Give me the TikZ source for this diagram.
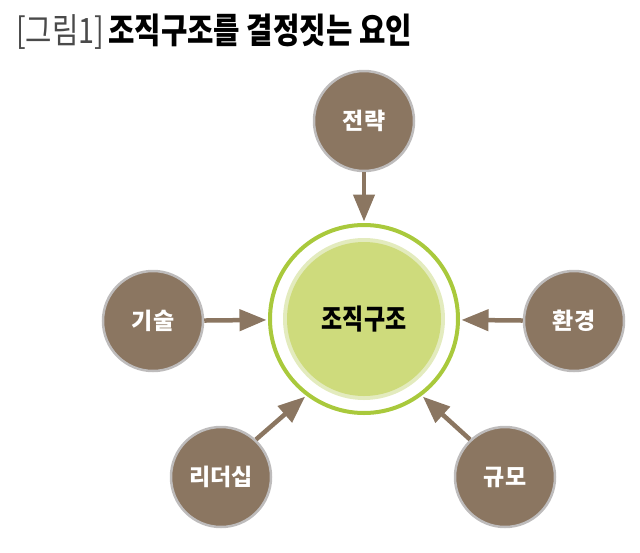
\documentclass[tikz,border=0pt]{standalone}
\usepackage{fontspec}
\newfontfamily\kr{Noto Sans CJK KR}
\newfontfamily\krc{Noto Sans CJK KR}[FakeStretch=0.82]
\usetikzlibrary{arrows.meta}
\definecolor{braun}{HTML}{8B7661}
\definecolor{randgrau}{HTML}{BEBCBC}
\definecolor{ringgruen}{HTML}{A9C93C}
\definecolor{kerngruen}{HTML}{CEDB7C}
\definecolor{hofgruen}{HTML}{E3EBBE}
\definecolor{titelgrau}{HTML}{4A4A4A}
\begin{document}
\begin{tikzpicture}[x=1pt,y=-1pt,
  faktor/.style={circle,draw=randgrau,line width=2.5pt,fill=braun,minimum size=100pt,inner sep=0pt,
    text=white,font=\kr\bfseries\fontsize{23}{23}\selectfont},
  pfeil/.style={draw=braun,line width=4.5pt,-{Triangle[width=21pt,length=27pt]},shorten >=1.5pt}]
\useasboundingbox (0,0) rectangle (640,552);
% Titel
\node[anchor=base west,inner sep=0pt,font=\krc\fontsize{35}{35}\selectfont] (titel) at (16,43)
  {\textcolor{titelgrau}{[그림1]}\hspace{4pt}\bfseries 조직구조를 결정짓는 요인};
% Kern: 조직구조
\fill[hofgruen] (364,319) circle (81pt);
\fill[kerngruen] (364,319) circle (77pt);
\node[circle,draw=ringgruen,line width=4pt,minimum size=188pt,inner sep=0pt,
  font=\krc\bfseries\fontsize{28}{28}\selectfont] (core) at (364,319) {조직구조};
% Faktoren
\node[faktor] (strat) at (364,121) {전략};
\node[faktor] (tech) at (153,321) {기술};
\node[faktor] (env) at (574,321) {환경};
\node[faktor] (lead) at (221,477) {리더십};
\node[faktor] (size) at (505,477) {규모};
% Pfeile
\draw[pfeil] (strat) -- (core);
\draw[pfeil] (tech) -- (core);
\draw[pfeil] (env) -- (core);
\draw[pfeil] (lead.47) -- (core.233);
\draw[pfeil] (size.133) -- (core.307);
\end{tikzpicture}
\end{document}
